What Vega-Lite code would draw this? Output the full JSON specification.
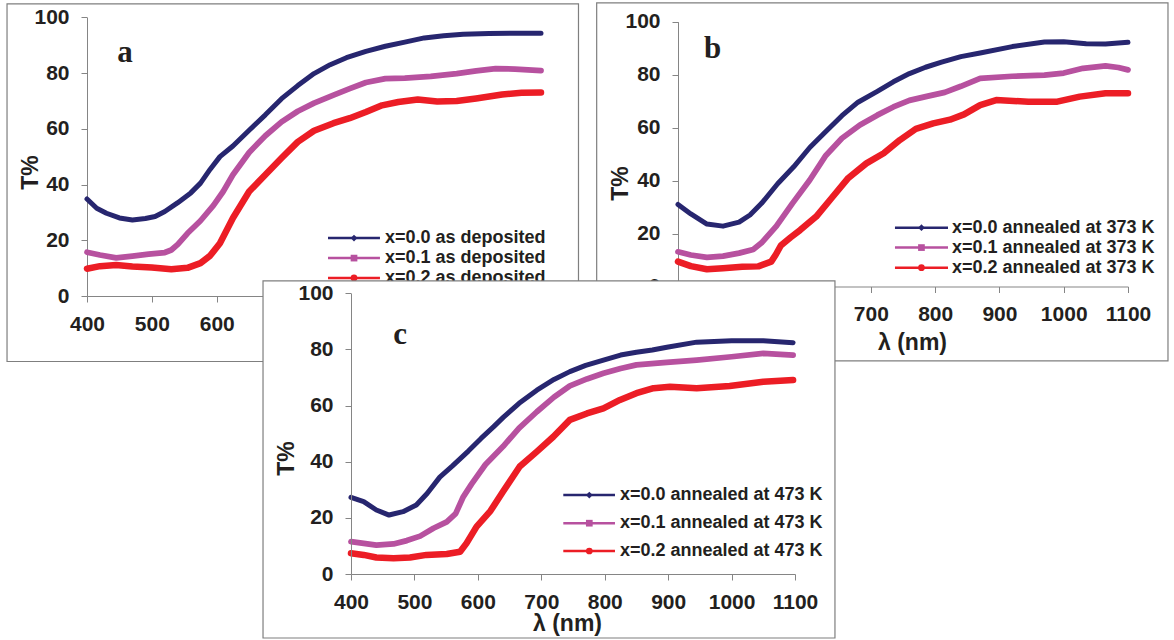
{
"$schema":"https://vega.github.io/schema/vega-lite/v6.json",
"width":1174,"height":640,"autosize":{"type":"none"},"padding":0,"background":"white",
"config":{"view":{"stroke":null},
 "axis":{"grid":false,"domainColor":"#858585","domainWidth":1,"tickColor":"#858585","tickSize":6,"tickWidth":1,"labelFont":"Liberation Sans","labelFontSize":21,"labelFontWeight":"bold","labelColor":"#231F20","titleFont":"Liberation Sans","titleFontSize":23,"titleFontWeight":"bold","titleColor":"#231F20","labelOverlap":false,"labelFlush":false,"labelBound":false,"titleAlign":"center","titleBaseline":"middle"},
 "axisX":{"labelPadding":11},"axisY":{"labelPadding":12}},
"datasets":{
"curves":[
{"p":"a","s":"0.0","x":400,"t":34.8},{"p":"a","s":"0.0","x":415,"t":31.5},{"p":"a","s":"0.0","x":430,"t":29.7},{"p":"a","s":"0.0","x":450,"t":28},{"p":"a","s":"0.0","x":470,"t":27.3},{"p":"a","s":"0.0","x":490,"t":27.8},{"p":"a","s":"0.0","x":505,"t":28.5},{"p":"a","s":"0.0","x":520,"t":30.3},{"p":"a","s":"0.0","x":540,"t":33.5},{"p":"a","s":"0.0","x":560,"t":37},{"p":"a","s":"0.0","x":575,"t":40.5},{"p":"a","s":"0.0","x":590,"t":45.5},{"p":"a","s":"0.0","x":605,"t":50},{"p":"a","s":"0.0","x":625,"t":53.8},{"p":"a","s":"0.0","x":650,"t":59.5},{"p":"a","s":"0.0","x":675,"t":65},{"p":"a","s":"0.0","x":700,"t":70.8},{"p":"a","s":"0.0","x":725,"t":75.5},{"p":"a","s":"0.0","x":750,"t":79.8},{"p":"a","s":"0.0","x":775,"t":83},{"p":"a","s":"0.0","x":800,"t":85.5},{"p":"a","s":"0.0","x":830,"t":87.8},{"p":"a","s":"0.0","x":860,"t":89.6},{"p":"a","s":"0.0","x":890,"t":91.1},{"p":"a","s":"0.0","x":920,"t":92.6},{"p":"a","s":"0.0","x":950,"t":93.4},{"p":"a","s":"0.0","x":980,"t":93.9},{"p":"a","s":"0.0","x":1020,"t":94.2},{"p":"a","s":"0.0","x":1060,"t":94.3},{"p":"a","s":"0.0","x":1100,"t":94.3},
{"p":"a","s":"0.1","x":400,"t":15.7},{"p":"a","s":"0.1","x":420,"t":14.7},{"p":"a","s":"0.1","x":445,"t":13.7},{"p":"a","s":"0.1","x":470,"t":14.3},{"p":"a","s":"0.1","x":495,"t":15},{"p":"a","s":"0.1","x":520,"t":15.6},{"p":"a","s":"0.1","x":530,"t":16.5},{"p":"a","s":"0.1","x":540,"t":18.5},{"p":"a","s":"0.1","x":555,"t":22.5},{"p":"a","s":"0.1","x":575,"t":27},{"p":"a","s":"0.1","x":595,"t":32.5},{"p":"a","s":"0.1","x":610,"t":37.5},{"p":"a","s":"0.1","x":625,"t":43.5},{"p":"a","s":"0.1","x":650,"t":51.5},{"p":"a","s":"0.1","x":675,"t":57.5},{"p":"a","s":"0.1","x":700,"t":62.5},{"p":"a","s":"0.1","x":725,"t":66.3},{"p":"a","s":"0.1","x":750,"t":69.2},{"p":"a","s":"0.1","x":780,"t":72.1},{"p":"a","s":"0.1","x":805,"t":74.4},{"p":"a","s":"0.1","x":830,"t":76.6},{"p":"a","s":"0.1","x":860,"t":78},{"p":"a","s":"0.1","x":890,"t":78.2},{"p":"a","s":"0.1","x":930,"t":78.8},{"p":"a","s":"0.1","x":970,"t":79.8},{"p":"a","s":"0.1","x":1000,"t":80.8},{"p":"a","s":"0.1","x":1030,"t":81.6},{"p":"a","s":"0.1","x":1060,"t":81.4},{"p":"a","s":"0.1","x":1100,"t":80.9},
{"p":"a","s":"0.2","x":400,"t":9.8},{"p":"a","s":"0.2","x":420,"t":10.7},{"p":"a","s":"0.2","x":445,"t":11.1},{"p":"a","s":"0.2","x":470,"t":10.6},{"p":"a","s":"0.2","x":500,"t":10.2},{"p":"a","s":"0.2","x":530,"t":9.6},{"p":"a","s":"0.2","x":555,"t":10.1},{"p":"a","s":"0.2","x":575,"t":11.8},{"p":"a","s":"0.2","x":590,"t":14.5},{"p":"a","s":"0.2","x":605,"t":18.9},{"p":"a","s":"0.2","x":625,"t":28},{"p":"a","s":"0.2","x":650,"t":37.5},{"p":"a","s":"0.2","x":675,"t":43.5},{"p":"a","s":"0.2","x":700,"t":49.5},{"p":"a","s":"0.2","x":725,"t":55.3},{"p":"a","s":"0.2","x":750,"t":59.3},{"p":"a","s":"0.2","x":780,"t":62},{"p":"a","s":"0.2","x":805,"t":63.8},{"p":"a","s":"0.2","x":830,"t":66},{"p":"a","s":"0.2","x":855,"t":68.4},{"p":"a","s":"0.2","x":880,"t":69.6},{"p":"a","s":"0.2","x":910,"t":70.5},{"p":"a","s":"0.2","x":940,"t":69.8},{"p":"a","s":"0.2","x":970,"t":70},{"p":"a","s":"0.2","x":1000,"t":70.9},{"p":"a","s":"0.2","x":1040,"t":72.3},{"p":"a","s":"0.2","x":1070,"t":72.9},{"p":"a","s":"0.2","x":1100,"t":73},
{"p":"b","s":"0.0","x":400,"t":31},{"p":"b","s":"0.0","x":420,"t":27.4},{"p":"b","s":"0.0","x":445,"t":23.6},{"p":"b","s":"0.0","x":470,"t":22.8},{"p":"b","s":"0.0","x":495,"t":24.3},{"p":"b","s":"0.0","x":512,"t":27},{"p":"b","s":"0.0","x":530,"t":31.4},{"p":"b","s":"0.0","x":555,"t":38.8},{"p":"b","s":"0.0","x":580,"t":45.2},{"p":"b","s":"0.0","x":605,"t":52.5},{"p":"b","s":"0.0","x":630,"t":58.5},{"p":"b","s":"0.0","x":655,"t":64.5},{"p":"b","s":"0.0","x":680,"t":69.6},{"p":"b","s":"0.0","x":710,"t":73.7},{"p":"b","s":"0.0","x":735,"t":77.3},{"p":"b","s":"0.0","x":760,"t":80.4},{"p":"b","s":"0.0","x":785,"t":82.8},{"p":"b","s":"0.0","x":810,"t":84.7},{"p":"b","s":"0.0","x":840,"t":86.8},{"p":"b","s":"0.0","x":870,"t":88.2},{"p":"b","s":"0.0","x":920,"t":90.6},{"p":"b","s":"0.0","x":970,"t":92.3},{"p":"b","s":"0.0","x":1000,"t":92.4},{"p":"b","s":"0.0","x":1035,"t":91.7},{"p":"b","s":"0.0","x":1065,"t":91.6},{"p":"b","s":"0.0","x":1100,"t":92.2},
{"p":"b","s":"0.1","x":400,"t":13.1},{"p":"b","s":"0.1","x":420,"t":11.9},{"p":"b","s":"0.1","x":445,"t":11},{"p":"b","s":"0.1","x":470,"t":11.5},{"p":"b","s":"0.1","x":495,"t":12.6},{"p":"b","s":"0.1","x":517,"t":14},{"p":"b","s":"0.1","x":530,"t":16.5},{"p":"b","s":"0.1","x":553,"t":22.8},{"p":"b","s":"0.1","x":578,"t":31.4},{"p":"b","s":"0.1","x":605,"t":40.2},{"p":"b","s":"0.1","x":630,"t":49.5},{"p":"b","s":"0.1","x":655,"t":56},{"p":"b","s":"0.1","x":683,"t":61},{"p":"b","s":"0.1","x":710,"t":64.7},{"p":"b","s":"0.1","x":735,"t":67.8},{"p":"b","s":"0.1","x":760,"t":70.3},{"p":"b","s":"0.1","x":787,"t":71.8},{"p":"b","s":"0.1","x":815,"t":73.3},{"p":"b","s":"0.1","x":840,"t":75.6},{"p":"b","s":"0.1","x":870,"t":78.6},{"p":"b","s":"0.1","x":920,"t":79.4},{"p":"b","s":"0.1","x":970,"t":79.8},{"p":"b","s":"0.1","x":1000,"t":80.6},{"p":"b","s":"0.1","x":1030,"t":82.4},{"p":"b","s":"0.1","x":1065,"t":83.3},{"p":"b","s":"0.1","x":1085,"t":82.7},{"p":"b","s":"0.1","x":1100,"t":81.8},
{"p":"b","s":"0.2","x":400,"t":9.4},{"p":"b","s":"0.2","x":420,"t":7.7},{"p":"b","s":"0.2","x":445,"t":6.5},{"p":"b","s":"0.2","x":470,"t":6.9},{"p":"b","s":"0.2","x":500,"t":7.5},{"p":"b","s":"0.2","x":525,"t":7.6},{"p":"b","s":"0.2","x":545,"t":9.4},{"p":"b","s":"0.2","x":552,"t":12},{"p":"b","s":"0.2","x":560,"t":15.5},{"p":"b","s":"0.2","x":575,"t":18.5},{"p":"b","s":"0.2","x":590,"t":21.3},{"p":"b","s":"0.2","x":615,"t":26.4},{"p":"b","s":"0.2","x":640,"t":33.7},{"p":"b","s":"0.2","x":665,"t":41},{"p":"b","s":"0.2","x":693,"t":46.5},{"p":"b","s":"0.2","x":720,"t":50.3},{"p":"b","s":"0.2","x":745,"t":55.3},{"p":"b","s":"0.2","x":770,"t":59.5},{"p":"b","s":"0.2","x":797,"t":61.6},{"p":"b","s":"0.2","x":823,"t":63},{"p":"b","s":"0.2","x":845,"t":65},{"p":"b","s":"0.2","x":870,"t":68.5},{"p":"b","s":"0.2","x":895,"t":70.4},{"p":"b","s":"0.2","x":945,"t":69.8},{"p":"b","s":"0.2","x":990,"t":69.8},{"p":"b","s":"0.2","x":1025,"t":71.7},{"p":"b","s":"0.2","x":1065,"t":73},{"p":"b","s":"0.2","x":1100,"t":73},
{"p":"c","s":"0.0","x":400,"t":27.3},{"p":"c","s":"0.0","x":420,"t":25.8},{"p":"c","s":"0.0","x":440,"t":22.8},{"p":"c","s":"0.0","x":460,"t":21},{"p":"c","s":"0.0","x":482,"t":22.2},{"p":"c","s":"0.0","x":503,"t":24.6},{"p":"c","s":"0.0","x":520,"t":28.7},{"p":"c","s":"0.0","x":540,"t":34.5},{"p":"c","s":"0.0","x":560,"t":38.5},{"p":"c","s":"0.0","x":585,"t":43.8},{"p":"c","s":"0.0","x":605,"t":48.3},{"p":"c","s":"0.0","x":625,"t":52.5},{"p":"c","s":"0.0","x":640,"t":55.8},{"p":"c","s":"0.0","x":665,"t":60.8},{"p":"c","s":"0.0","x":693,"t":65.5},{"p":"c","s":"0.0","x":720,"t":69.3},{"p":"c","s":"0.0","x":745,"t":72.1},{"p":"c","s":"0.0","x":770,"t":74.3},{"p":"c","s":"0.0","x":798,"t":76.2},{"p":"c","s":"0.0","x":825,"t":78},{"p":"c","s":"0.0","x":850,"t":79},{"p":"c","s":"0.0","x":875,"t":79.8},{"p":"c","s":"0.0","x":898,"t":80.8},{"p":"c","s":"0.0","x":945,"t":82.6},{"p":"c","s":"0.0","x":1000,"t":83.1},{"p":"c","s":"0.0","x":1050,"t":83.1},{"p":"c","s":"0.0","x":1097,"t":82.4},
{"p":"c","s":"0.1","x":400,"t":11.5},{"p":"c","s":"0.1","x":420,"t":10.9},{"p":"c","s":"0.1","x":440,"t":10.3},{"p":"c","s":"0.1","x":467,"t":10.7},{"p":"c","s":"0.1","x":488,"t":11.9},{"p":"c","s":"0.1","x":509,"t":13.5},{"p":"c","s":"0.1","x":530,"t":16.3},{"p":"c","s":"0.1","x":551,"t":18.6},{"p":"c","s":"0.1","x":565,"t":21.5},{"p":"c","s":"0.1","x":577,"t":27.5},{"p":"c","s":"0.1","x":590,"t":32},{"p":"c","s":"0.1","x":612,"t":39},{"p":"c","s":"0.1","x":640,"t":45.5},{"p":"c","s":"0.1","x":665,"t":52},{"p":"c","s":"0.1","x":693,"t":57.8},{"p":"c","s":"0.1","x":720,"t":63},{"p":"c","s":"0.1","x":745,"t":67},{"p":"c","s":"0.1","x":772,"t":69.5},{"p":"c","s":"0.1","x":798,"t":71.5},{"p":"c","s":"0.1","x":825,"t":73.2},{"p":"c","s":"0.1","x":850,"t":74.5},{"p":"c","s":"0.1","x":898,"t":75.4},{"p":"c","s":"0.1","x":945,"t":76.2},{"p":"c","s":"0.1","x":1000,"t":77.4},{"p":"c","s":"0.1","x":1050,"t":78.6},{"p":"c","s":"0.1","x":1097,"t":78},
{"p":"c","s":"0.2","x":400,"t":7.4},{"p":"c","s":"0.2","x":420,"t":6.8},{"p":"c","s":"0.2","x":440,"t":5.9},{"p":"c","s":"0.2","x":467,"t":5.6},{"p":"c","s":"0.2","x":493,"t":5.9},{"p":"c","s":"0.2","x":519,"t":6.8},{"p":"c","s":"0.2","x":551,"t":7.1},{"p":"c","s":"0.2","x":572,"t":7.9},{"p":"c","s":"0.2","x":582,"t":10.9},{"p":"c","s":"0.2","x":598,"t":16.9},{"p":"c","s":"0.2","x":620,"t":22.5},{"p":"c","s":"0.2","x":640,"t":29.5},{"p":"c","s":"0.2","x":666,"t":38.3},{"p":"c","s":"0.2","x":693,"t":43.6},{"p":"c","s":"0.2","x":719,"t":48.9},{"p":"c","s":"0.2","x":745,"t":54.9},{"p":"c","s":"0.2","x":772,"t":57.2},{"p":"c","s":"0.2","x":798,"t":59},{"p":"c","s":"0.2","x":824,"t":62},{"p":"c","s":"0.2","x":850,"t":64.4},{"p":"c","s":"0.2","x":877,"t":66.2},{"p":"c","s":"0.2","x":903,"t":66.7},{"p":"c","s":"0.2","x":945,"t":66.2},{"p":"c","s":"0.2","x":997,"t":67},{"p":"c","s":"0.2","x":1050,"t":68.5},{"p":"c","s":"0.2","x":1097,"t":69.1}
],
"frames":[
{"p":"a","x":276.7,"x2":1157.8,"t":104.8,"t2":-23.5},
{"p":"b","x":273.5,"x2":1162.2,"t":107.1,"t2":-28.1},
{"p":"c","x":261.3,"x2":1163,"t":104.4,"t2":-22.8}
],
"legline":[
{"p":"a","s":"0.0","x":771.6,"x2":851.7,"t":20.8},{"p":"a","s":"0.1","x":771.6,"x2":851.7,"t":13.6},{"p":"a","s":"0.2","x":771.6,"x2":851.7,"t":6.5},
{"p":"b","s":"0.0","x":737.5,"x2":820,"t":22.2},{"p":"b","s":"0.1","x":737.5,"x2":820,"t":14.7},{"p":"b","s":"0.2","x":737.5,"x2":820,"t":7.1},
{"p":"c","s":"0.0","x":734.7,"x2":816.2,"t":28.1},{"p":"c","s":"0.1","x":734.7,"x2":816.2,"t":18.1},{"p":"c","s":"0.2","x":734.7,"x2":816.2,"t":8.2}
],
"legmark":[
{"p":"a","s":"0.0","x":811.7,"t":20.8},{"p":"a","s":"0.1","x":811.7,"t":13.6},{"p":"a","s":"0.2","x":811.7,"t":6.5},
{"p":"b","s":"0.0","x":778.7,"t":22.2},{"p":"b","s":"0.1","x":778.7,"t":14.7},{"p":"b","s":"0.2","x":778.7,"t":7.1},
{"p":"c","s":"0.0","x":775.7,"t":28.1},{"p":"c","s":"0.1","x":775.7,"t":18.1},{"p":"c","s":"0.2","x":775.7,"t":8.2}
],
"legtext":[
{"p":"a","label":"x=0.0 as deposited","x":859.5,"t":20.8},{"p":"a","label":"x=0.1 as deposited","x":859.5,"t":13.6},{"p":"a","label":"x=0.2 as deposited","x":859.5,"t":6.5},
{"p":"b","label":"x=0.0 annealed at 373 K","x":826.2,"t":22.2},{"p":"b","label":"x=0.1 annealed at 373 K","x":826.2,"t":14.7},{"p":"b","label":"x=0.2 annealed at 373 K","x":826.2,"t":7.1},
{"p":"c","label":"x=0.0 annealed at 473 K","x":824.1,"t":28.1},{"p":"c","label":"x=0.1 annealed at 473 K","x":824.1,"t":18.1},{"p":"c","label":"x=0.2 annealed at 473 K","x":824.1,"t":8.2}
],
"tags":[
{"p":"a","tag":"a","x":458.6,"t":84.0},
{"p":"b","tag":"b","x":453.7,"t":86.2},
{"p":"c","tag":"c","x":477.3,"t":81.8}
]
},
"layer":[
{
 "encoding":{
  "x":{"field":"x","type":"quantitative","scale":{"domain":[400,1100],"range":[87,541],"nice":false,"zero":false},
       "axis":{"orient":"bottom","offset":-344,"values":[400,500,600],"format":"d","title":null,"zindex":0}},
  "y":{"field":"t","type":"quantitative","scale":{"domain":[0,100],"range":[296,17.3],"nice":false,"zero":false},
       "axis":{"orient":"left","offset":-87,"values":[0,20,40,60,80,100],"format":"d","title":"T%","titleX":-57,"titleY":172,"titleAngle":-90,"zindex":0}}
 },
 "layer":[
  {"data":{"name":"frames"},"transform":[{"filter":"datum.p==='a'"}],"mark":{"type":"rect","fill":"white","fillOpacity":0,"stroke":"#7f7f7f","strokeWidth":1.2},"encoding":{"x2":{"field":"x2"},"y2":{"field":"t2"}}},
  {"data":{"name":"curves"},"transform":[{"filter":"datum.p==='a'"}],"mark":{"type":"line","strokeJoin":"round","strokeCap":"round"},
   "encoding":{"color":{"field":"s","type":"nominal","scale":{"domain":["0.0","0.1","0.2"],"range":["#27266F","#B7519F","#EC1D25"]},"legend":null},
               "strokeWidth":{"field":"s","type":"ordinal","scale":{"domain":["0.0","0.1","0.2"],"range":[5,6.5,6]},"legend":null}}},
  {"data":{"name":"legline"},"transform":[{"filter":"datum.p==='a'"}],"mark":{"type":"rule","strokeWidth":2.5},
   "encoding":{"x2":{"field":"x2"},"color":{"field":"s","type":"nominal","legend":null}}},
  {"data":{"name":"legmark"},"transform":[{"filter":"datum.p==='a'"}],"mark":{"type":"point","filled":true,"opacity":1,"size":45},
   "encoding":{"color":{"field":"s","type":"nominal","legend":null},"shape":{"field":"s","type":"nominal","scale":{"domain":["0.0","0.1","0.2"],"range":["diamond","square","circle"]},"legend":null}}},
  {"data":{"name":"legtext"},"transform":[{"filter":"datum.p==='a'"}],"mark":{"type":"text","align":"left","baseline":"middle","font":"Liberation Sans","fontWeight":"bold","fontSize":18,"color":"#231F20"},
   "encoding":{"text":{"field":"label"}}},
  {"data":{"name":"tags"},"transform":[{"filter":"datum.p==='a'"}],"mark":{"type":"text","align":"center","baseline":"alphabetic","font":"Liberation Serif","fontWeight":"bold","fontSize":31,"color":"#231F20"},
   "encoding":{"text":{"field":"tag"}}}
 ]
},
{
 "encoding":{
  "x":{"field":"x","type":"quantitative","scale":{"domain":[400,1100],"range":[678,1128],"nice":false,"zero":false},
       "axis":{"orient":"bottom","offset":-353.5,"values":[400,500,600,700,800,900,1000,1100],"format":"d","title":"λ (nm)","titleX":912,"titleY":56,"zindex":0}},
  "y":{"field":"t","type":"quantitative","scale":{"domain":[0,100],"range":[286.5,21.7],"nice":false,"zero":false},
       "axis":{"orient":"left","offset":-678,"values":[0,20,40,60,80,100],"format":"d","title":"T%","titleX":-58,"titleY":183,"titleAngle":-90,"zindex":0}}
 },
 "layer":[
  {"data":{"name":"frames"},"transform":[{"filter":"datum.p==='b'"}],"mark":{"type":"rect","fill":"white","fillOpacity":0,"stroke":"#7f7f7f","strokeWidth":1.2},"encoding":{"x2":{"field":"x2"},"y2":{"field":"t2"}}},
  {"data":{"name":"curves"},"transform":[{"filter":"datum.p==='b'"}],"mark":{"type":"line","strokeJoin":"round","strokeCap":"round"},
   "encoding":{"color":{"field":"s","type":"nominal","legend":null},
               "strokeWidth":{"field":"s","type":"ordinal","scale":{"domain":["0.0","0.1","0.2"],"range":[5,6.5,6]},"legend":null}}},
  {"data":{"name":"legline"},"transform":[{"filter":"datum.p==='b'"}],"mark":{"type":"rule","strokeWidth":2.5},
   "encoding":{"x2":{"field":"x2"},"color":{"field":"s","type":"nominal","legend":null}}},
  {"data":{"name":"legmark"},"transform":[{"filter":"datum.p==='b'"}],"mark":{"type":"point","filled":true,"opacity":1,"size":45},
   "encoding":{"color":{"field":"s","type":"nominal","legend":null},"shape":{"field":"s","type":"nominal","legend":null}}},
  {"data":{"name":"legtext"},"transform":[{"filter":"datum.p==='b'"}],"mark":{"type":"text","align":"left","baseline":"middle","font":"Liberation Sans","fontWeight":"bold","fontSize":18,"color":"#231F20"},
   "encoding":{"text":{"field":"label"}}},
  {"data":{"name":"tags"},"transform":[{"filter":"datum.p==='b'"}],"mark":{"type":"text","align":"center","baseline":"alphabetic","font":"Liberation Serif","fontWeight":"bold","fontSize":31,"color":"#231F20"},
   "encoding":{"text":{"field":"tag"}}}
 ]
},
{
 "encoding":{
  "x":{"field":"x","type":"quantitative","scale":{"domain":[400,1100],"range":[351,795],"nice":false,"zero":false},
       "axis":{"orient":"bottom","offset":-66,"values":[400,500,600,700,800,900,1000,1100],"format":"d","title":"λ (nm)","titleX":567,"titleY":49,"zindex":1}},
  "y":{"field":"t","type":"quantitative","scale":{"domain":[0,100],"range":[574,293.3],"nice":false,"zero":false},
       "axis":{"orient":"left","offset":-351,"values":[0,20,40,60,80,100],"format":"d","title":"T%","titleX":-65,"titleY":458,"titleAngle":-90,"zindex":1}}
 },
 "layer":[
  {"data":{"name":"frames"},"transform":[{"filter":"datum.p==='c'"}],"mark":{"type":"rect","fill":"white","fillOpacity":1,"stroke":"#7f7f7f","strokeWidth":1.2},"encoding":{"x2":{"field":"x2"},"y2":{"field":"t2"}}},
  {"data":{"name":"curves"},"transform":[{"filter":"datum.p==='c'"}],"mark":{"type":"line","strokeJoin":"round","strokeCap":"round"},
   "encoding":{"color":{"field":"s","type":"nominal","legend":null},
               "strokeWidth":{"field":"s","type":"ordinal","scale":{"domain":["0.0","0.1","0.2"],"range":[5,6.5,6]},"legend":null}}},
  {"data":{"name":"legline"},"transform":[{"filter":"datum.p==='c'"}],"mark":{"type":"rule","strokeWidth":2.5},
   "encoding":{"x2":{"field":"x2"},"color":{"field":"s","type":"nominal","legend":null}}},
  {"data":{"name":"legmark"},"transform":[{"filter":"datum.p==='c'"}],"mark":{"type":"point","filled":true,"opacity":1,"size":45},
   "encoding":{"color":{"field":"s","type":"nominal","legend":null},"shape":{"field":"s","type":"nominal","legend":null}}},
  {"data":{"name":"legtext"},"transform":[{"filter":"datum.p==='c'"}],"mark":{"type":"text","align":"left","baseline":"middle","font":"Liberation Sans","fontWeight":"bold","fontSize":18,"color":"#231F20"},
   "encoding":{"text":{"field":"label"}}},
  {"data":{"name":"tags"},"transform":[{"filter":"datum.p==='c'"}],"mark":{"type":"text","align":"center","baseline":"alphabetic","font":"Liberation Serif","fontWeight":"bold","fontSize":31,"color":"#231F20"},
   "encoding":{"text":{"field":"tag"}}}
 ]
}
],
"resolve":{"scale":{"x":"independent","y":"independent"},"axis":{"x":"independent","y":"independent"}}
}
